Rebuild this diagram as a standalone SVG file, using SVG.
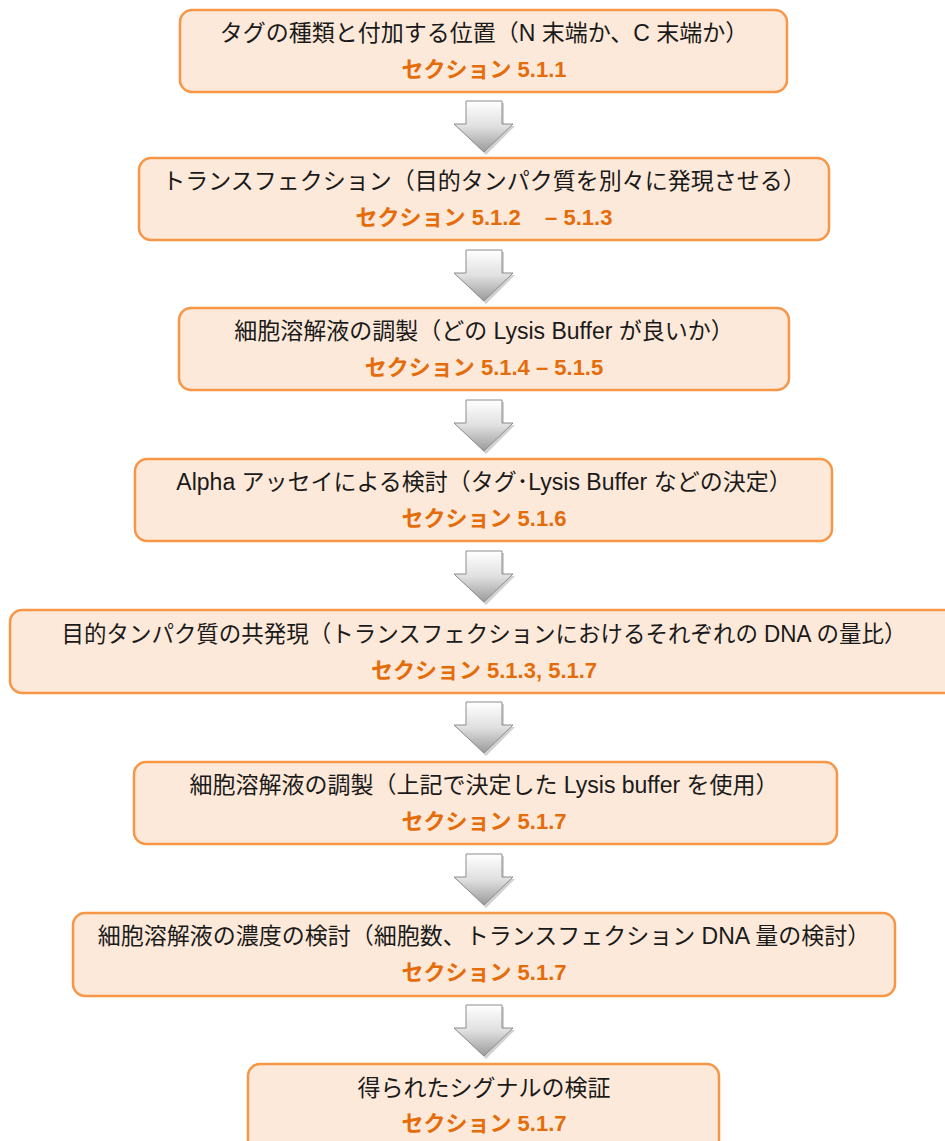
<svg xmlns="http://www.w3.org/2000/svg" width="945" height="1141" viewBox="0 0 945 1141">
  <style>
    .box { fill: #FDE9D9; stroke: #F79646; stroke-width: 2.5; }
    .t { font-family: "Liberation Sans", "Noto Sans CJK JP", sans-serif; font-size: 23px; fill: #1a1a1a; text-anchor: middle; }
    .s { font-family: "Liberation Sans", "Noto Sans CJK JP", sans-serif; font-size: 22px; font-weight: bold; fill: #E46C0A; text-anchor: middle; }
    .arrow { fill: url(#ag); stroke: #8c8c8c; stroke-width: 1; }
    .shadow { fill: #b3b3b3; opacity: 0.6; }
  </style>
  <defs>
    <linearGradient id="ag" x1="0" y1="0" x2="0" y2="1">
      <stop offset="0" stop-color="#ffffff"/>
      <stop offset="0.5" stop-color="#e0e0e0"/>
      <stop offset="1" stop-color="#9a9a9a"/>
    </linearGradient>
    <g id="arr">
      <path class="shadow" d="M-16,2 H20 V25 H31 L2,54 L-28,25 H-16 Z"/>
      <path class="arrow" d="M-18,0 H18 V23 H29 L0,51 L-30,23 H-18 Z"/>
    </g>
  </defs>

  <g id="connectors">
    <use href="#arr" x="484" y="101"/>
    <use href="#arr" x="484" y="250"/>
    <use href="#arr" x="484" y="400"/>
    <use href="#arr" x="484" y="551"/>
    <use href="#arr" x="484" y="702"/>
    <use href="#arr" x="484" y="854"/>
    <use href="#arr" x="484" y="1005"/>
  </g>

  <g id="node1">
    <rect class="box" x="180" y="10" width="607" height="82" rx="12"/>
    <text class="t" x="484" y="41">タグの種類と付加する位置（N 末端か、C 末端か）</text>
    <text class="s" x="484" y="77">セクション 5.1.1</text>
  </g>
  <g id="node2">
    <rect class="box" x="139" y="158" width="690" height="82" rx="12"/>
    <text class="t" x="484" y="189">トランスフェクション（目的タンパク質を別々に発現させる）</text>
    <text class="s" x="484" y="225">セクション 5.1.2&#160;&#160;&#160;&#160;– 5.1.3</text>
  </g>
  <g id="node3">
    <rect class="box" x="179" y="308" width="610" height="82" rx="12"/>
    <text class="t" x="484" y="339">細胞溶解液の調製（どの Lysis Buffer が良いか）</text>
    <text class="s" x="484" y="375">セクション 5.1.4 – 5.1.5</text>
  </g>
  <g id="node4">
    <rect class="box" x="135" y="459" width="697" height="82" rx="12"/>
    <text class="t" x="484" y="490">Alpha アッセイによる検討（タグ･Lysis Buffer などの決定）</text>
    <text class="s" x="484" y="526">セクション 5.1.6</text>
  </g>
  <g id="node5">
    <rect class="box" x="10" y="610" width="948" height="83" rx="12"/>
    <text class="t" x="484" y="642" textLength="845" lengthAdjust="spacingAndGlyphs">目的タンパク質の共発現（トランスフェクションにおけるそれぞれの DNA の量比）</text>
    <text class="s" x="484" y="678">セクション 5.1.3, 5.1.7</text>
  </g>
  <g id="node6">
    <rect class="box" x="134" y="762" width="703" height="82" rx="12"/>
    <text class="t" x="484" y="793">細胞溶解液の調製（上記で決定した Lysis buffer を使用）</text>
    <text class="s" x="484" y="829">セクション 5.1.7</text>
  </g>
  <g id="node7">
    <rect class="box" x="73" y="913" width="822" height="83" rx="12"/>
    <text class="t" x="484" y="944">細胞溶解液の濃度の検討（細胞数、トランスフェクション DNA 量の検討）</text>
    <text class="s" x="484" y="980">セクション 5.1.7</text>
  </g>
  <g id="node8">
    <rect class="box" x="248" y="1064" width="471" height="95" rx="12"/>
    <text class="t" x="484" y="1096">得られたシグナルの検証</text>
    <text class="s" x="484" y="1131">セクション 5.1.7</text>
  </g>
</svg>
